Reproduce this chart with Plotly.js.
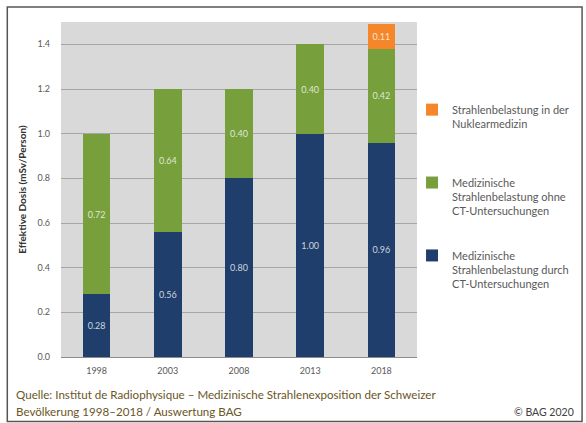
<!DOCTYPE html>
<html>
<head>
<meta charset="utf-8">
<script src="https://cdn.plot.ly/plotly-3.0.1.min.js"></script>
<style>html,body{margin:0;padding:0;background:#fff;}#chart{width:586px;height:423px;}</style>
</head>
<body>
<div id="chart"></div>
<script>
const years = ['1998', '2003', '2008', '2013', '2018'];
const ctValues = [0.28, 0.56, 0.80, 1.00, 0.96];
const nonCtValues = [0.72, 0.64, 0.40, 0.40, 0.42];
const nuclearValues = [null, null, null, null, 0.11];
const seriesNames = [
  'Medizinische<br>Strahlenbelastung durch<br>CT-Untersuchungen',
  'Medizinische<br>Strahlenbelastung ohne<br>CT-Untersuchungen',
  'Strahlenbelastung in der<br>Nuklearmedizin<br> '
];
const legendRanks = [3, 2, 1];
const yTickVals = [0, 0.2, 0.4, 0.6, 0.8, 1.0, 1.2, 1.4];
const yTickText = ['0.0', '0.2', '0.4', '0.6', '0.8', '1.0', '1.2', '1.4'];

const FONT = 'Lato, "Liberation Sans", sans-serif';
const colors = ['#1f3e6c', '#77a03c', '#f5872a'];
const seriesValues = [ctValues, nonCtValues, nuclearValues];

const traces = seriesValues.map((vals, i) => ({
  type: 'bar',
  x: years,
  y: vals,
  name: seriesNames[i],
  legendgroup: 'g' + i,
  legendrank: legendRanks[i],
  marker: {color: colors[i]},
  text: vals.map(v => v == null ? '' : v.toFixed(2)),
  textposition: 'inside',
  insidetextanchor: 'middle',
  constraintext: 'none',
  textfont: {family: FONT, size: 9, color: 'rgba(255,255,255,0.78)'},
  hoverinfo: 'x+y+name'
}));

const L = 61, R = 419, T = 22, B = 357;
const W = R - L, H = B - T;
const px = x => (x - L) / W;
const py = y => (B - y) / H;

const layout = {
  width: 586, height: 423,
  margin: {l: L, r: 586 - R, t: T, b: 423 - B},
  paper_bgcolor: '#ffffff',
  plot_bgcolor: '#d9d9d9',
  barmode: 'stack',
  bargap: 0.61,
  font: {family: FONT, size: 9, color: '#595959'},
  xaxis: {
    type: 'category',
    showgrid: false,
    showline: false,
    ticks: '',
    tickfont: {family: FONT, size: 9, color: '#595959'},
    ticklabelstandoff: 7,
    fixedrange: true
  },
  yaxis: {
    range: [0, 1.5],
    tickvals: yTickVals,
    ticktext: yTickText,
    showgrid: true,
    gridcolor: '#a6a6a6',
    gridwidth: 1,
    zeroline: true,
    zerolinecolor: '#8c8c8c',
    zerolinewidth: 1,
    showline: false,
    ticks: '',
    ticklabelstandoff: 10,
    tickfont: {family: FONT, size: 9, color: '#595959'},
    title: {text: 'Effektive Dosis (mSv/Person)', standoff: 8,
            font: {family: FONT, size: 10, color: '#333333', weight: 'bold'}},
    fixedrange: true
  },
  showlegend: true,
  legend: {
    x: px(414), y: py(96), xanchor: 'left', yanchor: 'top',
    traceorder: 'grouped',
    tracegroupgap: 27,
    valign: 'top',
    bgcolor: 'rgba(0,0,0,0)',
    font: {family: FONT, size: 11, color: '#595959'}
  },
  annotations: [
    {
      xref: 'paper', yref: 'paper', x: px(14), y: py(394), xanchor: 'left', yanchor: 'middle',
      align: 'left', showarrow: false,
      text: 'Quelle: Institut de Radiophysique – Medizinische Strahlenexposition der Schweizer',
      font: {family: FONT, size: 11.6, color: '#6b5526'}
    },
    {
      xref: 'paper', yref: 'paper', x: px(14), y: py(411), xanchor: 'left', yanchor: 'middle',
      align: 'left', showarrow: false,
      text: 'Bevölkerung 1998–2018 / Auswertung BAG',
      font: {family: FONT, size: 11.6, color: '#6b5526'}
    },
    {
      xref: 'paper', yref: 'paper', x: px(579), y: py(412), xanchor: 'right', yanchor: 'middle',
      showarrow: false, text: '© BAG 2020',
      font: {family: FONT, size: 10.5, color: '#404040'}
    }
  ],
  shapes: [
    {type: 'rect', xref: 'paper', yref: 'paper', layer: 'below',
     x0: px(7), x1: px(585), y0: py(421.5), y1: py(7),
     line: {color: '#555555', width: 1.5}, fillcolor: 'rgba(0,0,0,0)'}
  ]
};

Plotly.newPlot('chart', traces, layout, {displayModeBar: false, staticPlot: true});
</script>
</body>
</html>
